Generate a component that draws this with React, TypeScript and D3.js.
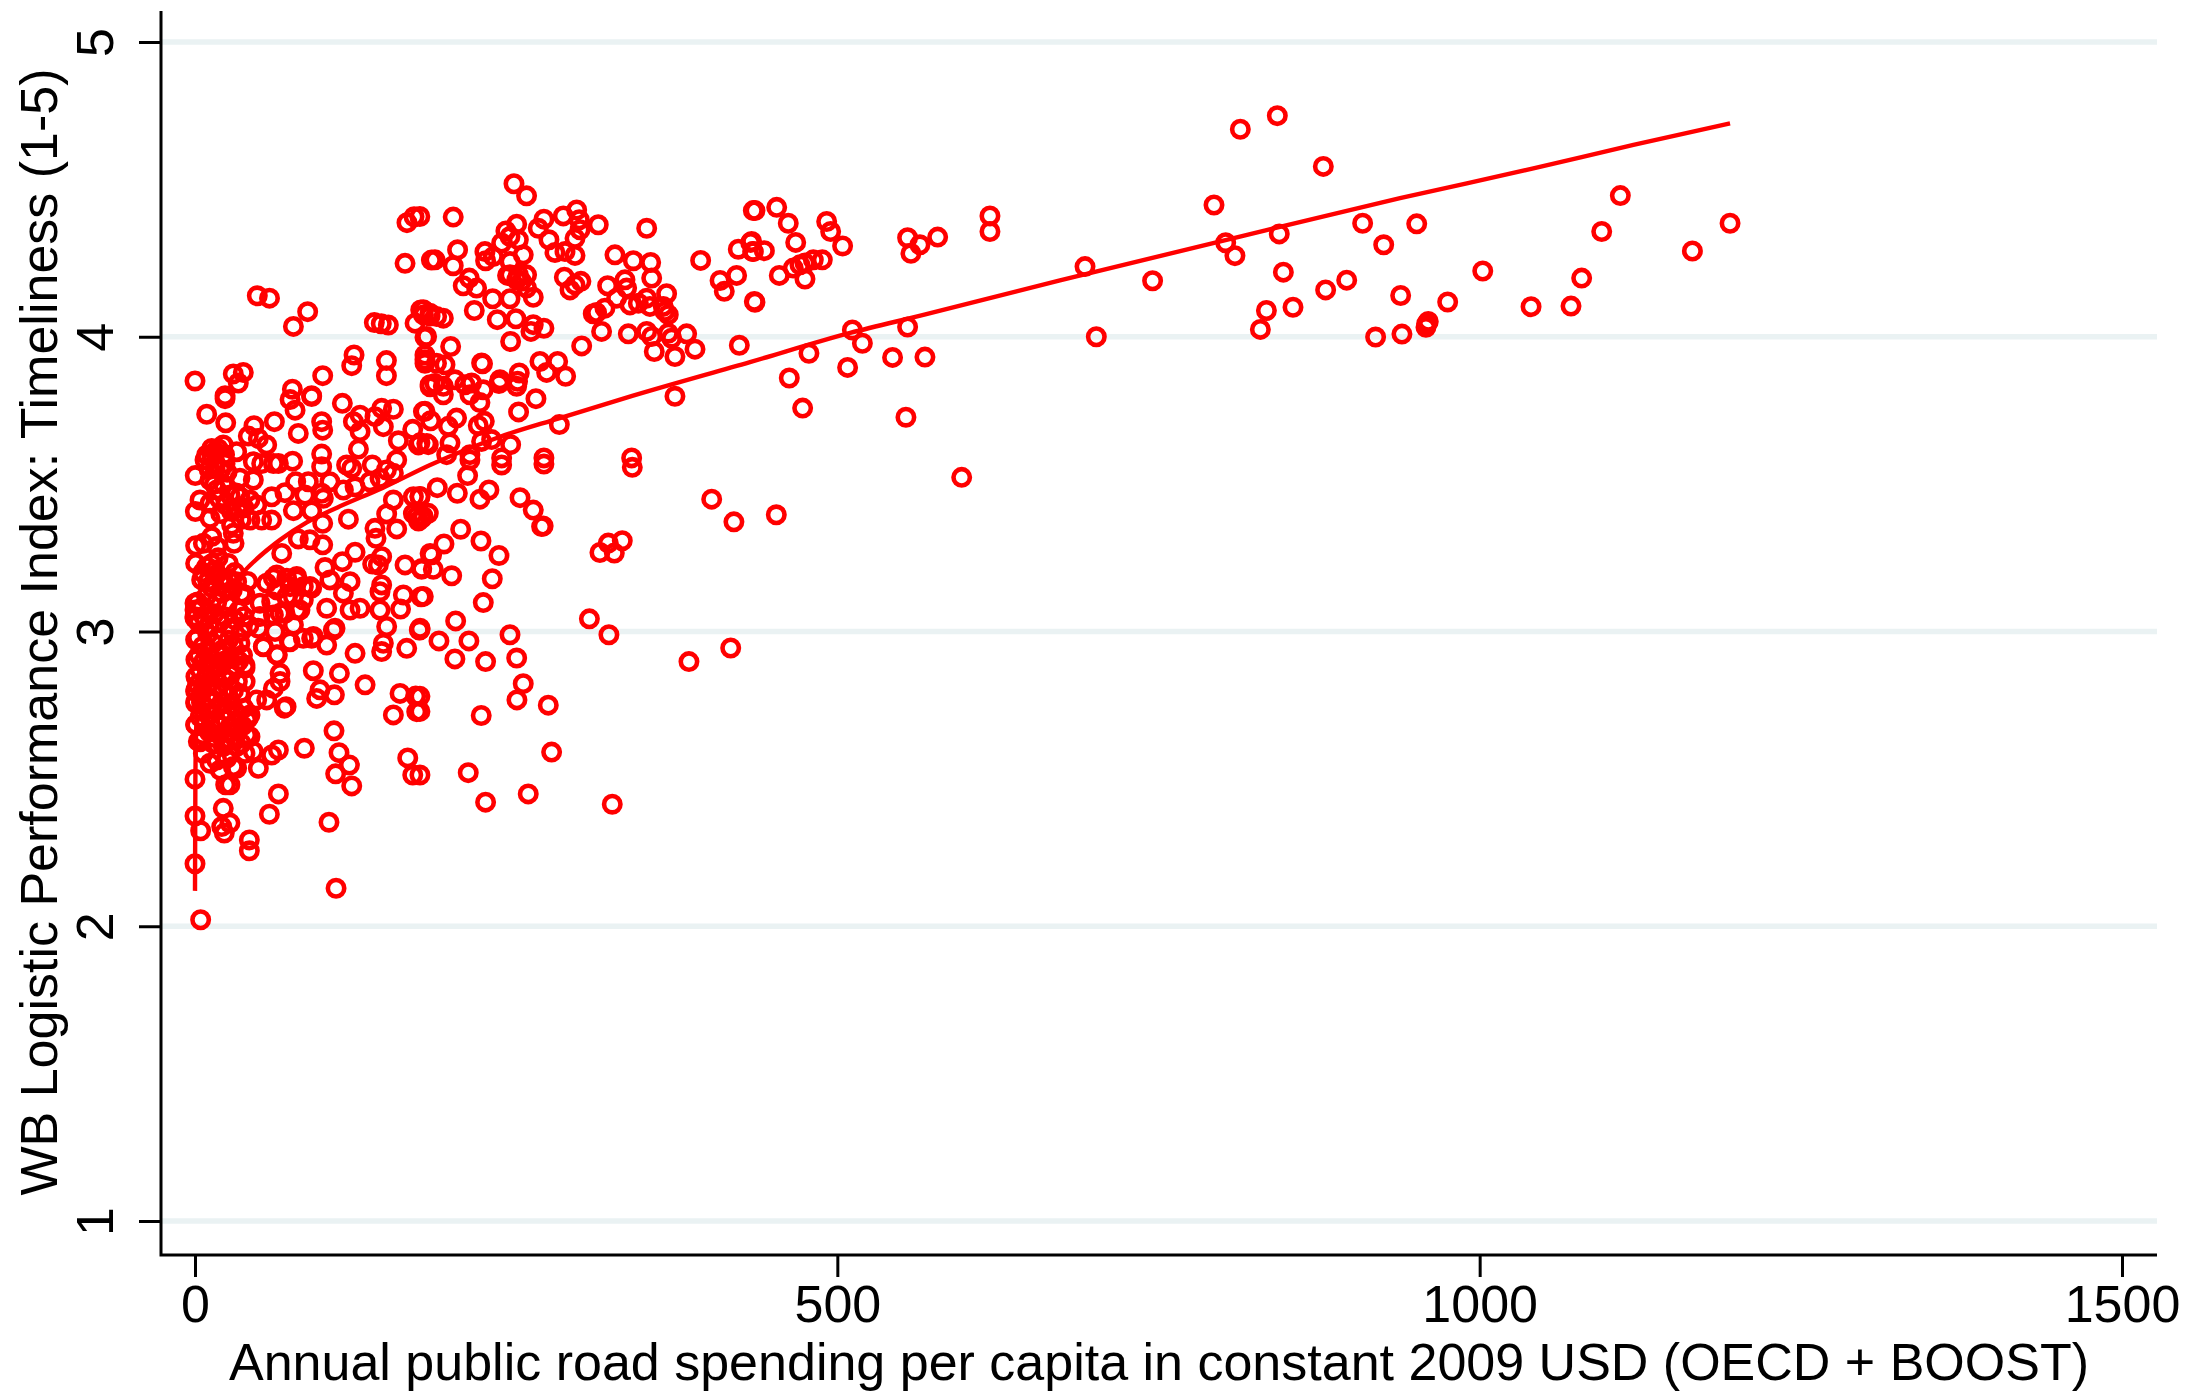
import { useEffect, useRef } from 'react';
import * as d3 from 'd3';

type Pair = [number, number];

const xTicks = [0, 500, 1000, 1500];
const yTicks = [1, 2, 3, 4, 5];
const xTitle = 'Annual public road spending per capita in constant 2009 USD (OECD + BOOST)';
const yTitle = 'WB Logistic Performance Index: Timeliness (1-5)';

// spending, timeliness
const topLeftPoints: Pair[] = [
  [165, 4.387], [170.5, 4.407], [163.5, 4.249], [184, 4.26], [48.5, 4.139], [58, 4.131], [87.7, 4.085], [76.6, 4.035],
  [139.6, 4.048], [145, 4.044], [150.5, 4.04], [175.7, 4.091], [171.3, 4.046], [177.8, 4.074], [183, 4.07], [179, 3.998],
  [179, 3.938], [179, 3.91], [123.8, 3.938], [122, 3.902], [149, 3.919], [149, 3.868], [99.4, 3.868], [37.6, 3.879],
  [29.8, 3.874], [33.7, 3.843], [0, 3.85], [75.8, 3.822], [23.4, 3.8], [90.8, 3.8], [183, 3.837],
];

const upperLeftPoints: Pair[] = [
  [23.4, 3.79], [74, 3.787], [90.8, 3.797], [77.9, 3.751], [114.7, 3.774], [9.1, 3.737], [23.9, 3.708], [61.8, 3.712],
  [80.4, 3.672], [98.6, 3.712], [99.4, 3.683], [45.9, 3.698], [41.5, 3.663], [49.3, 3.655], [55.8, 3.633], [128.5, 3.734],
  [123.3, 3.712], [140.1, 3.729], [145.3, 3.757], [154.4, 3.754], [146.6, 3.695], [128.5, 3.678], [169.5, 3.686],
  [177.8, 3.746], [183, 3.83], [158.3, 3.647], [173.9, 3.633], [180.4, 3.638], [127.2, 3.619], [98.6, 3.602], [98.6, 3.559],
  [76, 3.578], [32.4, 3.61], [13, 3.621], [22, 3.633], [9.1, 3.599], [15.6, 3.61], [7.8, 3.582], [23.4, 3.57], [45.4, 3.576],
  [51.9, 3.57], [61, 3.57], [64.9, 3.57], [0.2, 3.529], [15.6, 3.553], [11.7, 3.514], [35, 3.52], [45.4, 3.514], [118, 3.565],
  [122, 3.554], [138, 3.565], [157, 3.582], [149, 3.548], [154.4, 3.537], [78.4, 3.508], [88.2, 3.508], [105, 3.508],
  [70, 3.471], [85.6, 3.463], [98.6, 3.469], [99.9, 3.452], [115.5, 3.48], [124.6, 3.491], [136.2, 3.508], [144, 3.52],
  [59.7, 3.457], [3.9, 3.446], [16.9, 3.48], [27.2, 3.463], [35, 3.457], [42.8, 3.446], [48, 3.429], [11.7, 3.435],
  [0.3, 3.407], [11.7, 3.384], [28.5, 3.407], [42.8, 3.378], [51.9, 3.378], [59.7, 3.378], [76.6, 3.41], [90.8, 3.409],
  [154.4, 3.446], [170, 3.457], [175.2, 3.457], [149.2, 3.399], [119.4, 3.381], [99.4, 3.367], [157, 3.348], [140.1, 3.35],
  [140.9, 3.316], [172.6, 3.39], [176.5, 3.384], [170, 3.4], [174, 3.375], [28.5, 3.361], [29.8, 3.333], [30.4, 3.299],
  [13, 3.322], [0.5, 3.291], [6.5, 3.299], [16.9, 3.288], [80.4, 3.314], [89.5, 3.311], [99.4, 3.294], [67.5, 3.265],
];

const midLeftPoints: Pair[] = [
  [124.6, 3.269], [114.7, 3.237], [145.3, 3.254], [142.7, 3.226], [138.3, 3.229], [163.5, 3.226], [176.5, 3.214], [183, 3.265],
  [101.2, 3.217], [0.5, 3.231], [26, 3.231], [9.1, 3.22], [15.6, 3.209], [5.2, 3.175], [32.4, 3.169], [22, 3.175], [14.2, 3.164],
  [61, 3.181], [55.8, 3.164], [71.4, 3.181], [79.2, 3.175], [63.6, 3.141], [74, 3.152], [84.3, 3.152], [90.8, 3.147],
  [105, 3.175], [120.7, 3.169], [115.5, 3.13], [145.3, 3.158], [144, 3.135], [162.2, 3.124], [176, 3.118], [38.9, 3.124],
  [59.7, 3.101], [76.6, 3.118], [102.5, 3.079], [128.5, 3.079], [120.7, 3.073], [109, 3.011], [144, 3.073], [160, 3.076],
  [149.2, 3.017], [175.2, 3.011], [0, 3.096], [0, 3.073], [0, 3.05], [50.6, 3.096], [66.2, 3.062], [79.2, 3.073], [61, 3.056],
  [50.6, 3.051], [92.1, 2.983], [62.3, 3.0], [76.6, 3.022], [49.3, 3.011], [73.4, 2.966], [53.2, 2.949], [63.6, 2.921],
  [81.7, 3.073], [70, 3.062], [63.6, 3.192], [79.2, 3.187], [89.5, 3.153], [84.3, 3.107], [71.4, 3.119],
];

const lowerLeftPoints: Pair[] = [
  [107.7, 3.005], [174.6, 3.005], [74, 2.965], [102.5, 2.954], [53.2, 2.948], [90.8, 2.977], [84.3, 2.977], [124.6, 2.926],
  [146.6, 2.96], [145.3, 2.932], [164.8, 2.943], [64.1, 2.92], [38.9, 2.886], [92.1, 2.867], [112.4, 2.858], [66.2, 2.858],
  [66.2, 2.83], [132.4, 2.819], [61, 2.807], [159.6, 2.79], [171.8, 2.781], [172.6, 2.728], [154.4, 2.717], [97.3, 2.802],
  [94.7, 2.773], [108.5, 2.785], [48, 2.768], [55.8, 2.768], [70.9, 2.745], [69.5, 2.74], [108.2, 2.663], [0.7, 2.802],
  [0.7, 2.762], [0.7, 2.683], [41.5, 2.706], [42.8, 2.643], [85.1, 2.604], [64.9, 2.598], [59.7, 2.581], [49.3, 2.536],
  [112.1, 2.589], [120.2, 2.547], [109.5, 2.517], [122, 2.476], [165.6, 2.571], [169.5, 2.513], [0, 2.499], [23.9, 2.48],
  [27.2, 2.48], [64.9, 2.449], [22, 2.4], [57.9, 2.38], [0, 2.374], [4.4, 2.324], [20.8, 2.338], [27.2, 2.35], [22.8, 2.316],
  [104.3, 2.353], [42.3, 2.293], [42.3, 2.256], [0, 2.212], [109.8, 2.129], [4.4, 2.022], [11.7, 2.553], [19.5, 2.53],
  [29.8, 2.542], [32.4, 2.536], [38.9, 2.587], [45.4, 2.593], [6.5, 2.587], [22, 2.61], [27.2, 2.632], [32.4, 2.61],
  [14.3, 2.62], [40.2, 2.649], [3.9, 2.626], [16.9, 2.564], [24.7, 2.57], [38.9, 2.876], [40.2, 2.701], [42.8, 2.717],
  [0, 3.045], [0.5, 2.972], [0.7, 2.904], [0.7, 2.847], [0.5, 2.797], [0.5, 2.757], [0.5, 2.684], [2.6, 2.627],
];

const denseCorePoints: Pair[] = [
  [2, 3.1], [5, 3.08], [9, 3.12], [13, 3.15], [17, 3.1], [21, 3.13], [25, 3.09], [29, 3.14], [34, 3.07],
  [3, 3.03], [7, 3.05], [11, 3.02], [15, 3.06], [19, 3.03], [23, 3.05], [27, 3.01], [31, 3.04], [36, 3.0],
  [2, 2.98], [6, 2.95], [10, 2.99], [14, 2.96], [18, 2.98], [22, 2.94], [26, 2.97], [30, 2.95], [35, 2.96],
  [3, 2.92], [7, 2.9], [11, 2.93], [15, 2.89], [19, 2.92], [23, 2.9], [27, 2.91], [31, 2.88],
  [4, 2.87], [8, 2.84], [12, 2.87], [16, 2.85], [20, 2.88], [24, 2.84], [28, 2.86], [33, 2.83],
  [2, 2.82], [6, 2.8], [10, 2.82], [14, 2.79], [18, 2.81], [22, 2.8], [26, 2.78], [30, 2.8], [35, 2.79],
  [5, 2.76], [9, 2.74], [13, 2.77], [17, 2.74], [21, 2.76], [25, 2.73], [29, 2.75], [33, 2.72], [38, 2.74],
  [4, 2.71], [8, 2.69], [12, 2.72], [16, 2.7], [20, 2.68], [24, 2.7], [28, 2.68], [32, 2.69], [37, 2.68],
  [6, 2.65], [11, 2.66], [15, 2.64], [19, 2.65], [23, 2.63], [27, 2.66], [31, 2.64],
  [10, 3.17], [16, 3.19], [21, 3.16], [26, 3.18], [31, 3.2], [6, 3.2], [13, 3.23], [18, 3.25],
  [13, 3.6], [18, 3.62], [23, 3.6], [16, 3.57], [20, 3.55], [11, 3.55], [25, 3.54], [15, 3.5], [22, 3.5],
  [19, 3.45], [24, 3.43], [32, 3.47], [38, 3.42], [20, 3.4], [36, 3.38], [33, 3.42],
  [36, 3.13], [38, 3.05], [37, 2.92], [39, 2.83], [34, 2.9], [36, 2.62], [41, 3.17], [42, 3.02],
];

const centerPoints: Pair[] = [
  [214, 3.582], [238.7, 3.565], [271.6, 3.568], [340.4, 3.557], [212.2, 3.529], [188.6, 3.488], [204.2, 3.469], [228.8, 3.48],
  [221.8, 3.449], [253, 3.454], [263.3, 3.412], [269.8, 3.356], [271, 3.358], [402.2, 3.449], [419.5, 3.372], [181.6, 3.401],
  [177.7, 3.39], [175, 3.458], [206.8, 3.347], [222.6, 3.307], [236.6, 3.258], [193.8, 3.297], [184.2, 3.26], [185.5, 3.211],
  [176.4, 3.211], [199.8, 3.189], [231.4, 3.179], [224.4, 3.098], [177.7, 3.119], [202.9, 3.036], [175.1, 3.006], [189.9, 2.968],
  [213.2, 2.968], [245.2, 2.989], [202.3, 2.907], [226.2, 2.898], [250.4, 2.91], [255.5, 2.823], [250.6, 2.768], [275, 2.75],
  [222.8, 2.715], [175.1, 2.78], [175.1, 2.729], [277.6, 2.591], [315.2, 3.268], [321.7, 3.3], [326.4, 3.266], [332.6, 3.308],
  [307, 3.043], [322.2, 2.989], [384.5, 2.898], [417, 2.944], [452.5, 3.396], [212.7, 2.521], [226.2, 2.421], [259.4, 2.449],
  [324.8, 2.414], [175.1, 2.513],
];

const upperCenterPoints: Pair[] = [
  [248.3, 4.519], [258.1, 4.478], [201, 4.406], [175, 4.408], [271.6, 4.399], [286.7, 4.41], [297.1, 4.43], [299.1, 4.397],
  [313.9, 4.38], [267.2, 4.368], [250.4, 4.382], [242, 4.359], [351.6, 4.368], [434.6, 4.428], [299.7, 4.363], [295.8, 4.334],
  [275.5, 4.329], [251.7, 4.329], [245.2, 4.34], [238.7, 4.318], [204.4, 4.295], [186.8, 4.261], [201, 4.241], [225.7, 4.289],
  [226.2, 4.258], [232.2, 4.272], [255.5, 4.278], [245.2, 4.255], [280.2, 4.286], [288, 4.289], [295.8, 4.276], [326.9, 4.278],
  [341.2, 4.258], [354.7, 4.252], [393.6, 4.259], [422.9, 4.297], [432.5, 4.32], [434.1, 4.289], [245.2, 4.21], [251.7, 4.21],
  [258.1, 4.21], [243.3, 4.208], [250.4, 4.193], [254.2, 4.188], [263.3, 4.134], [258.1, 4.165], [245.2, 4.129], [231.7, 4.129],
  [213.5, 4.199], [208.8, 4.173], [219.2, 4.165], [217.4, 4.089], [235.3, 4.058], [249.8, 4.061], [271.6, 4.029], [263.3, 4.041],
  [261.5, 4.018], [245.7, 3.984], [287.5, 4.202], [291.9, 4.159], [295.8, 4.176], [300.4, 4.188], [321.2, 4.173], [334.7, 4.193],
  [355.5, 4.199], [367.1, 4.146], [408.7, 4.191], [421.6, 4.208], [412, 4.154], [435.4, 4.12], [328.2, 4.131], [336, 4.165],
  [319.1, 4.097], [312.6, 4.082], [310, 4.078], [338.6, 4.108], [345.1, 4.114], [351.6, 4.131], [354.1, 4.103], [364.5, 4.103],
  [368.4, 4.075], [365.8, 4.086], [316.5, 4.018], [337.3, 4.01], [351.6, 4.018], [355.5, 4.001], [368.4, 4.012], [371, 3.995],
  [382.7, 4.01], [357.5, 3.95], [373.6, 3.933], [389.2, 3.958], [301, 3.969], [423.7, 3.971], [177.7, 4.092], [182.9, 4.08],
  [188.1, 4.069], [193.3, 4.063], [180.3, 4.001], [199, 3.967], [179, 3.922], [188, 3.91], [194.6, 3.905], [223.1, 3.911],
  [223.8, 3.908], [268.5, 3.916], [282.3, 3.916], [273.7, 3.879], [288.5, 3.866], [237.4, 3.854], [236.6, 3.841], [252.4, 3.877],
  [251.1, 3.849], [250.4, 3.832], [186.8, 3.841], [193.3, 3.832], [193.3, 3.803], [202.3, 3.854], [210.1, 3.837], [215.3, 3.843],
  [224.4, 3.82], [214, 3.803], [221.8, 3.777], [265.4, 3.79], [251.9, 3.745], [283.6, 3.702], [373.6, 3.798], [179, 3.747],
  [183.4, 3.715], [203.6, 3.724], [197.2, 3.696], [225.2, 3.713], [220.5, 3.699], [223.1, 3.645], [230.9, 3.651], [198.5, 3.64],
  [181.6, 3.634], [175.1, 3.64], [195.9, 3.6], [214, 3.6], [245.7, 3.634], [238.7, 3.589], [271.6, 3.589], [339.9, 3.589],
];

const rightPoints: Pair[] = [
  [435.9, 4.428], [452.8, 4.439], [461.8, 4.385], [491.7, 4.391], [494.8, 4.357], [467.6, 4.32], [504.1, 4.308], [433.3, 4.323],
  [434.6, 4.289], [443.2, 4.292], [488.3, 4.261], [481.3, 4.261], [474.8, 4.25], [470.9, 4.244], [465.7, 4.233], [474.8, 4.196],
  [454.8, 4.208], [435.9, 4.117], [554.7, 4.336], [564.3, 4.312], [578.1, 4.338], [557.3, 4.283], [618.8, 4.41], [618.8, 4.357],
  [692.8, 4.238], [511.7, 4.023], [519.5, 3.978], [554.7, 4.033], [477.9, 3.944], [508, 3.896], [462.6, 3.86], [543, 3.93],
  [568.2, 3.931], [473, 3.758], [553.4, 3.727], [596.8, 3.523], [745.4, 4.19], [793.2, 4.447], [802.3, 4.319], [809.5, 4.275],
  [813.7, 4.704], [842.5, 4.75], [878.3, 4.578], [844, 4.349], [847.2, 4.219], [896.5, 4.192], [880.1, 4.159], [854.7, 4.1],
  [834, 4.089], [829.3, 4.025], [701.6, 4.0], [908.9, 4.385], [925.3, 4.312], [919, 3.999], [938.5, 4.14], [939.5, 4.009],
  [951, 4.383], [958.2, 4.032], [960, 4.052], [958.8, 4.044], [975.1, 4.118], [1002.4, 4.223], [1040, 4.102], [1071.1, 4.104],
  [1079.4, 4.199], [1095, 4.357], [1109.5, 4.479], [1165.6, 4.291], [1194.9, 4.385],
];

const fitLine: Pair[] = [
  [0, 2.12], [0.3, 2.5], [1, 2.68], [3, 2.85], [8, 2.98], [18, 3.09], [37, 3.198], [66, 3.31], [87, 3.37], [110.5, 3.42],
  [146, 3.487], [183, 3.565], [237, 3.66], [284, 3.724], [341, 3.8], [432, 3.914], [510, 4.013], [567, 4.074], [673.3, 4.191],
  [803, 4.329], [938, 4.47], [1041.8, 4.571], [1119.7, 4.651], [1194.9, 4.724],
];

const allPoints = [
  ...topLeftPoints, ...upperLeftPoints, ...midLeftPoints, ...lowerLeftPoints,
  ...denseCorePoints, ...centerPoints, ...upperCenterPoints, ...rightPoints,
];

export default function App() {
  const svgRef = useRef<SVGSVGElement>(null);

  useEffect(() => {
    if (!svgRef.current) return;
    const svg = d3.select(svgRef.current);
    svg.selectAll('*').remove();

    const width = 2186;
    const height = 1391;
    const plot = { left: 161, right: 2157, top: 11, bottom: 1255 };
    const font = '"Liberation Sans", Arial, sans-serif';
    const fontSize = 52;

    const xScale = d3.scaleLinear().domain([0, 1500]).range([195, 2122]);
    const yScale = d3.scaleLinear().domain([1, 5]).range([1221, 42]);

    svg.attr('width', width).attr('height', height);

    // Grid lines
    svg.append('g')
      .selectAll('line')
      .data(yTicks)
      .enter()
      .append('line')
      .attr('x1', plot.left)
      .attr('x2', plot.right)
      .attr('y1', (d) => yScale(d))
      .attr('y2', (d) => yScale(d))
      .attr('stroke', '#eaf2f3')
      .attr('stroke-width', 5.5);

    // Fit line
    const line = d3.line<Pair>().x((d) => xScale(d[0])).y((d) => yScale(d[1])).curve(d3.curveMonotoneX);
    svg.append('path')
      .datum(fitLine)
      .attr('d', line)
      .attr('fill', 'none')
      .attr('stroke', '#ff0000')
      .attr('stroke-width', 4.4);

    // Points
    svg.append('g')
      .selectAll('circle')
      .data(allPoints)
      .enter()
      .append('circle')
      .attr('cx', (d) => xScale(d[0]))
      .attr('cy', (d) => yScale(d[1]))
      .attr('r', 8.2)
      .attr('fill', 'none')
      .attr('stroke', '#ff0000')
      .attr('stroke-width', 4.6);

    // Axes
    const xAxis = svg.append('g')
      .attr('transform', `translate(0,${plot.bottom})`)
      .call(d3.axisBottom(xScale).tickValues(xTicks).tickSize(22).tickSizeOuter(0).tickPadding(8).tickFormat((d) => String(d)));
    xAxis.select('.domain').remove();
    xAxis.selectAll('line').attr('stroke', '#000').attr('stroke-width', 3);
    xAxis.selectAll('text').attr('fill', '#000').attr('font-family', font).attr('font-size', fontSize);

    const yAxis = svg.append('g')
      .attr('transform', `translate(${plot.left},0)`)
      .call(d3.axisLeft(yScale).tickValues(yTicks).tickSize(22).tickFormat((d) => String(d)));
    yAxis.select('.domain').remove();
    yAxis.selectAll('line').attr('stroke', '#000').attr('stroke-width', 3);
    yAxis.selectAll('text')
      .attr('fill', '#000')
      .attr('font-family', font)
      .attr('font-size', fontSize)
      .attr('text-anchor', 'middle')
      .attr('dy', 0)
      .attr('x', 0)
      .attr('y', 0)
      .attr('transform', 'translate(-48,0) rotate(-90)');

    // Axis lines
    svg.append('path')
      .attr('d', `M${plot.left},${plot.top}V${plot.bottom}H${plot.right}`)
      .attr('fill', 'none')
      .attr('stroke', '#000')
      .attr('stroke-width', 3);

    // Titles
    svg.append('text')
      .attr('x', 1159)
      .attr('y', 1380)
      .attr('text-anchor', 'middle')
      .attr('font-family', font)
      .attr('font-size', fontSize)
      .attr('fill', '#000')
      .text(xTitle);

    svg.append('text')
      .attr('transform', 'translate(57,632) rotate(-90)')
      .attr('text-anchor', 'middle')
      .attr('font-family', font)
      .attr('font-size', fontSize)
      .attr('fill', '#000')
      .text(yTitle);
  }, []);

  return <svg ref={svgRef} style={{ position: 'absolute', left: 0, top: 0, background: '#fff' }} />;
}
